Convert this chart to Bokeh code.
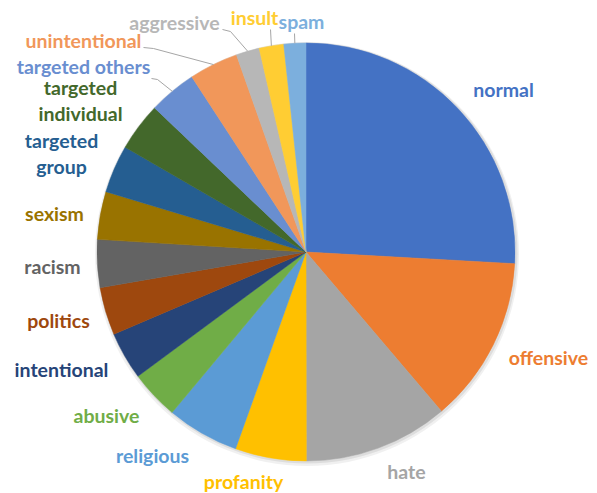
import math
from bokeh.plotting import figure
from bokeh.models import Range1d, ColumnDataSource
from bokeh.core.properties import value
from bokeh.embed import file_html
from bokeh.resources import INLINE

# ---- data (share of the pie, %) ----
categories = ["normal", "offensive", "hate", "profanity", "religious", "abusive",
              "intentional", "politics", "racism", "sexism", "targeted\ngroup",
              "targeted\nindividual", "targeted others", "unintentional",
              "aggressive", "insult", "spam"]
values = [25.9, 12.9, 11.2, 5.5, 5.6, 3.8, 3.7, 3.7, 3.7, 3.7, 3.7, 3.75, 3.7, 3.8,
          1.8, 1.9, 1.7]
colors = ["#4472C4", "#ED7D31", "#A5A5A5", "#FFC000", "#5B9BD5", "#70AD47",
          "#264478", "#9E480E", "#636363", "#997300", "#255E91", "#43682B",
          "#698ED0", "#F1975A", "#B7B7B7", "#FFCD33", "#7CAFDD"]

# ---- layout (reference pixel coordinates, y downwards) ----
W, H = 597, 493
CX, CY, R = 305.5, 251.5, 209
label_pos = [(503, 89), (548, 357), (406, 471), (243, 481), (152, 455), (106, 415),
             (61, 369), (58, 320), (52, 266), (54, 213), (61, 153), (80, 100),
             (83, 66), (83, 40), (174, 22), (254, 17), (301, 21)]
# leader lines: label index -> start point near the label
leaders = {12: [(151, 78), (157, 79)], 13: [(143, 47), (153, 48)],
           14: [(222, 29), (230, 31)], 15: [(270, 29)], 16: [(294, 33)]}

def Y(y):
    return H - y

p = figure(width=W, height=H, output_backend="svg", toolbar_location=None,
           x_range=Range1d(0, W), y_range=Range1d(0, H),
           min_border=0)
p.axis.visible = False
p.grid.visible = False
p.outline_line_color = None
p.background_fill_color = "white"
p.border_fill_color = "white"

total = sum(values)
starts, ends, mids = [], [], []
cum = 0.0
for v in values:
    a0 = math.pi / 2 - cum / total * 2 * math.pi
    cum += v
    a1 = math.pi / 2 - cum / total * 2 * math.pi
    starts.append(a1)
    ends.append(a0)
    mids.append((a0 + a1) / 2)

# soft shadow
p.scatter(x=[CX + 1], y=[Y(CY) - 2], size=2 * R + 6, marker="circle",
          fill_color="#000000", fill_alpha=0.06, line_color=None)
p.scatter(x=[CX + 1], y=[Y(CY) - 1], size=2 * R + 3, marker="circle",
          fill_color="#000000", fill_alpha=0.08, line_color=None)

src = ColumnDataSource(dict(start=starts, end=ends, color=colors))
p.wedge(x=CX, y=Y(CY), radius=R, start_angle="start", end_angle="end",
        fill_color="color", line_color="color", line_width=0.5, source=src)

# leader lines
for i, pts in leaders.items():
    ex = CX + R * math.cos(mids[i])
    ey = Y(CY) + R * math.sin(mids[i])
    xs = [a for a, b in pts] + [ex]
    ys = [Y(b) for a, b in pts] + [ey]
    p.line(xs, ys, line_color="#A6A6A6", line_width=1)

# labels
for name, (lx, ly), c in zip(categories, label_pos, colors):
    lines = name.split("\n")
    n = len(lines)
    for k, t in enumerate(lines):
        yy = ly + (k - (n - 1) / 2) * 26
        p.text(x=[lx], y=[Y(yy)], text=[t], text_color=c,
               text_font=value("Lato"), text_font_style="bold",
               text_font_size="19.5px", text_align="center",
               text_baseline="middle")

open("out.html", "w").write(file_html(p, INLINE))
